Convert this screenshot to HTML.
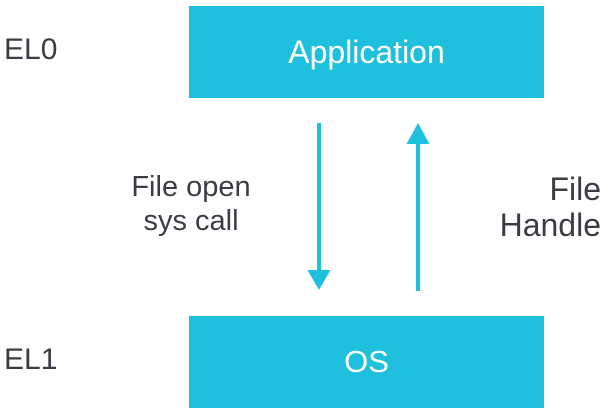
<!DOCTYPE html>
<html><head><style>
body{margin:0;width:608px;height:416px;background:#fff;overflow:hidden;font-family:"Liberation Sans",sans-serif;color:#3a3d45}
.t{position:absolute;line-height:34px;white-space:nowrap}
.box{position:absolute;left:189px;width:355px;height:92px;background:#1fc0dd;color:#fff;display:flex;align-items:center;justify-content:center}
</style></head><body>
<div class="box" style="top:6px;font-size:32px">Application</div>
<div class="box" style="top:316px;font-size:31px">OS</div>
<div class="t" style="left:4px;top:33px;font-size:30px">EL0</div>
<div class="t" style="left:4px;top:343px;font-size:30px">EL1</div>
<div class="t" style="left:111px;top:170px;width:160px;text-align:center;font-size:29px">File open<br>sys call</div>
<div class="t" style="left:470px;top:171px;width:131px;text-align:right;font-size:32px;line-height:36px">File<br>Handle</div>
<svg width="608" height="416" style="position:absolute;left:0;top:0">
<line x1="319" y1="123" x2="319" y2="272" stroke="#1fc0dd" stroke-width="4"/>
<polygon points="307.5,270 330.5,270 319,290" fill="#1fc0dd"/>
<line x1="418" y1="141" x2="418" y2="291" stroke="#1fc0dd" stroke-width="4"/>
<polygon points="406.5,144 429.5,144 418,123" fill="#1fc0dd"/>
</svg>
</body></html>
